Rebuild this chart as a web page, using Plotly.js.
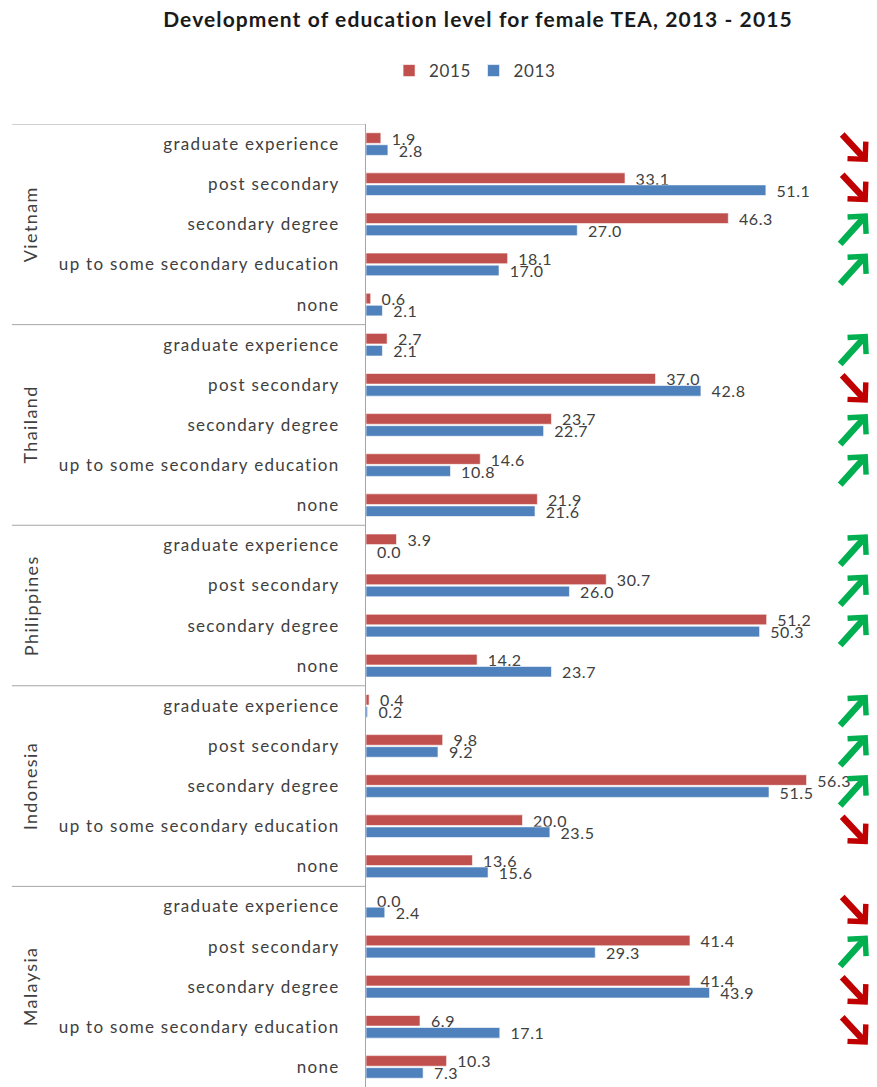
<!DOCTYPE html>
<html>
<head>
<meta charset="utf-8">
<script src="https://cdn.plot.ly/plotly-3.0.1.min.js"></script>
<style>
html,body{margin:0;padding:0;background:#fff;overflow:hidden}
#chart{width:877px;height:1087px}
#chart .ytick text{letter-spacing:1.3px}
#chart .bartext text, #chart text.bartext{letter-spacing:0.6px}
#chart .gtitle{letter-spacing:1.1px}
#chart .annotation-text{letter-spacing:1.4px}
#chart .legendtext{letter-spacing:0.6px}
</style>
</head>
<body>
<div id="chart"></div>
<script>
// ---- data ----
const countries = ['Vietnam', 'Thailand', 'Philippines', 'Indonesia', 'Malaysia'];
const levelsVietnam = ['graduate experience', 'post secondary', 'secondary degree', 'up to some secondary education', 'none'];
const levelsThailand = ['graduate experience', 'post secondary', 'secondary degree', 'up to some secondary education', 'none'];
const levelsPhilippines = ['graduate experience', 'post secondary', 'secondary degree', 'none'];
const levelsIndonesia = ['graduate experience', 'post secondary', 'secondary degree', 'up to some secondary education', 'none'];
const levelsMalaysia = ['graduate experience', 'post secondary', 'secondary degree', 'up to some secondary education', 'none'];

const v2015Vietnam = [1.9, 33.1, 46.3, 18.1, 0.6];
const v2013Vietnam = [2.8, 51.1, 27.0, 17.0, 2.1];
const v2015Thailand = [2.7, 37.0, 23.7, 14.6, 21.9];
const v2013Thailand = [2.1, 42.8, 22.7, 10.8, 21.6];
const v2015Philippines = [3.9, 30.7, 51.2, 14.2];
const v2013Philippines = [0.0, 26.0, 50.3, 23.7];
const v2015Indonesia = [0.4, 9.8, 56.3, 20.0, 13.6];
const v2013Indonesia = [0.2, 9.2, 51.5, 23.5, 15.6];
const v2015Malaysia = [0.0, 41.4, 41.4, 6.9, 10.3];
const v2013Malaysia = [2.4, 29.3, 43.9, 17.1, 7.3];

const seriesNames = ['2015', '2013'];
const titleText = 'Development of education level for female TEA, 2013 - 2015';

// ---- build ----
const levelsBy = [levelsVietnam, levelsThailand, levelsPhilippines, levelsIndonesia, levelsMalaysia];
const a2015 = [v2015Vietnam, v2015Thailand, v2015Philippines, v2015Indonesia, v2015Malaysia];
const a2013 = [v2013Vietnam, v2013Thailand, v2013Philippines, v2013Indonesia, v2013Malaysia];

const keys = [], ticks = [], y15 = [], y13 = [], rowLevel = [];
const groupStart = [], groupEnd = [];
countries.forEach((c, ci) => {
  groupStart.push(keys.length);
  levelsBy[ci].forEach((l, li) => {
    keys.push(c + ' | ' + l);
    ticks.push(l);
    y15.push(a2015[ci][li]);
    y13.push(a2013[ci][li]);
    rowLevel.push(l);
  });
  groupEnd.push(keys.length - 1);
});

const RED = '#C0504D', BLUE = '#4F81BD', TXT = '#404040';
const FONT = 'Lato, "Open Sans", sans-serif';

const mk = (name, vals, color) => ({
  type: 'bar', orientation: 'h', name: name,
  x: vals, y: keys,
  marker: {color: color, line: {color: '#ffffff', width: 0.6}},
  texttemplate: '\u00a0\u00a0%{x:.1f}', textposition: 'outside',
  cliponaxis: false, constraintext: 'none',
  textfont: {family: FONT, size: 16, color: TXT},
  outsidetextfont: {family: FONT, size: 16, color: TXT},
  hoverinfo: 'x+y'
});

const data = [mk(seriesNames[0], y15, RED), mk(seriesNames[1], y13, BLUE)];

const shapes = [];
const annotations = [];
const GRAY = '#A6A6A6';
groupStart.forEach(s => {
  shapes.push({type: 'line', xref: 'paper', yref: 'y', x0: -0.693, x1: 0, y0: s - 0.5, y1: s - 0.5,
    line: {color: GRAY, width: 1}});
});
countries.forEach((c, ci) => {
  annotations.push({xref: 'paper', yref: 'y', x: -0.6575, y: (groupStart[ci] + groupEnd[ci]) / 2,
    text: c, textangle: -90, showarrow: false, xanchor: 'center', yanchor: 'middle',
    font: {family: FONT, size: 18, color: TXT}});
});
// trend arrows (no arrow for 'none')
keys.forEach((k, i) => {
  if (rowLevel[i] === 'none') return;
  const up = y15[i] > y13[i];
  annotations.push({
    xref: 'paper', yref: 'y', x: 0.982, y: k, text: '',
    showarrow: true, arrowhead: 4, arrowsize: 0.74, arrowwidth: 6.5,
    arrowcolor: up ? '#00B050' : '#C00000',
    axref: 'pixel', ayref: 'pixel',
    ax: up ? -29 : -27, ay: up ? 32 : -29,
    yshift: up ? 11 : -18, standoff: 0
  });
});

const layout = {
  width: 877, height: 1087,
  margin: {l: 366, r: 0, t: 124, b: 0, pad: 0, autoexpand: false},
  paper_bgcolor: '#ffffff', plot_bgcolor: '#ffffff',
  title: {text: '<b>' + titleText + '</b>', xref: 'container', x: 0.545, xanchor: 'center',
    yref: 'container', y: 1 - 20 / 1087, yanchor: 'middle',
    font: {family: FONT, size: 21, color: '#1a1a1a'}},
  showlegend: true,
  legend: {orientation: 'h', xref: 'container', yref: 'container', x: 0.54, xanchor: 'center',
    y: 1 - 71 / 1087, yanchor: 'middle', font: {family: FONT, size: 17, color: TXT},
    itemwidth: 30, traceorder: 'normal'},
  barmode: 'group', bargap: 0.4, bargroupgap: 0.12,
  xaxis: {range: [0, 65.3], visible: false, fixedrange: true},
  yaxis: {type: 'category', autorange: false, range: [keys.length - 0.5, -0.5],
    tickmode: 'array', tickvals: keys, ticktext: ticks,
    showline: true, linecolor: GRAY, linewidth: 1, showgrid: false, zeroline: false,
    ticks: 'outside', ticklen: 22, tickcolor: 'rgba(0,0,0,0)',
    tickfont: {family: FONT, size: 17, color: TXT}, fixedrange: true},
  shapes: shapes, annotations: annotations
};

Plotly.newPlot('chart', data, layout, {displayModeBar: false, staticPlot: true});
</script>
</body>
</html>
